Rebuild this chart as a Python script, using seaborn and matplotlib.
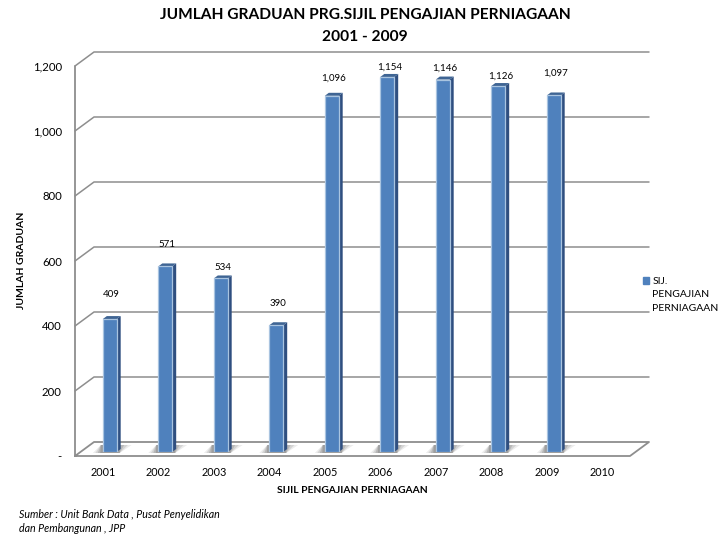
import matplotlib
matplotlib.use('Agg')
import matplotlib.pyplot as plt
from matplotlib.patches import Patch, Polygon
import numpy as np
import pandas as pd
import seaborn as sns

# chart values
years = ['2001', '2002', '2003', '2004', '2005', '2006', '2007', '2008', '2009', '2010']
graduates = [409, 571, 534, 390, 1096, 1154, 1146, 1126, 1097, np.nan]
value_labels = ['409', '571', '534', '390', '1,096', '1,154', '1,146', '1,126', '1,097', '']
y_ticks = [0, 200, 400, 600, 800, 1000, 1200]
y_tick_labels = ['-', '200', '400', '600', '800', '1,000', '1,200']
series_lines = ['SIJ.', 'PENGAJIAN', 'PERNIAGAAN']

# gap above each bar for its label, the original labels were placed by hand
label_gap = [18, 15, 5, 15, 11, 3, 5, 3, 16, 0]

W, H = 720, 540
BLUE = '#4f81bd'
GRID = '#8e8e8e'

sns.set_theme(style='white')
plt.rcParams['font.family'] = ['Lato', 'DejaVu Sans']

fig = plt.figure(figsize=(W / 100, H / 100), dpi=100)


def px_axes(left, right, top, bottom):
    return fig.add_axes([left / W, 1 - bottom / H, (right - left) / W, (bottom - top) / H])


# front plane of the fake 3d box
ax = px_axes(75, 630, 66, 456)
ax.set_xlim(-0.5, 9.5)
ax.set_ylim(0, 1200)
PX = 10 / 555
PY = 1200 / 390
dx, dy = 19 * PX, 14 * PY

for v in y_ticks[1:]:
    ax.plot([-0.5, -0.5 + dx, 9.5 + dx], [v, v + dy, v + dy], color=GRID, lw=1.1, clip_on=False, zorder=1)
ax.plot([-0.5, -0.5 + dx, 9.5 + dx, 9.5, -0.5, -0.5], [0, dy, dy, 0, 0, 1200],
        color=GRID, lw=1.3, clip_on=False, zorder=1)

sns.despine(ax=ax, left=True, bottom=True, top=True, right=True)
ax.set_xticks(range(len(years)), years)
ax.set_yticks(y_ticks, y_tick_labels)
ax.tick_params(axis='x', length=0, pad=8, labelsize=7.8, labelcolor='black')
ax.tick_params(axis='y', length=0, pad=9.5, labelsize=8.2, labelcolor='black')
ax.set_xlabel('SIJIL PENGAJIAN PERNIAGAAN', fontsize=7.4, fontweight='bold', color='black')
ax.xaxis.set_label_coords(277 / 555, -30 / 390)
ax.set_ylabel('JUMLAH GRADUAN', fontsize=7.5, fontweight='bold', color='black')
ax.yaxis.set_label_coords(-49 / 555, 196 / 390)

# bars sit a little inside the box
bx = px_axes(82, 637, 62, 452)
bx.patch.set_alpha(0)
df = pd.DataFrame({'year': years, 'graduates': graduates})
sns.barplot(data=df, x='year', y='graduates', ax=bx, color=BLUE, saturation=1, width=0.25,
            edgecolor='#a9c4e0', linewidth=0.9, legend=False)
bx.set_xlim(-0.5, 9.5)
bx.set_ylim(0, 1200)
bx.axis('off')

for i, bar in enumerate(bx.patches[:len(years)]):
    h = bar.get_height()
    if not np.isfinite(h):
        continue
    x0 = bar.get_x()
    x1 = x0 + bar.get_width()
    sx, sy = 4 * PX, 3 * PY
    # floor shadow
    for grow, alpha in zip([1.0, 0.75, 0.5, 0.25], [0.12, 0.18, 0.25, 0.3]):
        bx.add_patch(Polygon([[x0 - 10 * PX * grow, -PY], [x1 + 3 * PX, -PY],
                              [x1 + 15 * PX * grow, 7 * PY], [x0 - 2 * PX, 7 * PY]],
                             color='#666666', alpha=alpha, lw=0, clip_on=False, zorder=1))
    bx.add_patch(Polygon([[x1, 0], [x1 + sx, sy], [x1 + sx, h + sy], [x1, h]],
                         color='#2f4f80', lw=0, clip_on=False, zorder=3))
    bx.add_patch(Polygon([[x0, h], [x0 + sx, h + sy], [x1 + sx, h + sy], [x1, h]],
                         color='#3f6594', lw=0, clip_on=False, zorder=3))
    bar.set_zorder(4)
    bx.annotate(value_labels[i], (x0 + bar.get_width() / 2 + 2 * PX, h), xytext=(0, 1.4 + label_gap[i] * 0.72),
                textcoords='offset points', ha='center', va='bottom', fontsize=7, color='black',
                annotation_clip=False, zorder=5)

handles = [Patch(color=BLUE), Patch(alpha=0), Patch(alpha=0)]
fig.legend(handles, series_lines, loc='upper left', bbox_to_anchor=(643 / W, 1 - 277 / H), frameon=False,
           fontsize=7.5, handlelength=0.6, handleheight=0.6, handletextpad=0.3, borderpad=0, borderaxespad=0,
           labelcolor='black', labelspacing=0.42)

fig.text(365 / W, 1 - 15 / H, 'JUMLAH GRADUAN PRG.SIJIL PENGAJIAN PERNIAGAAN', ha='center', va='center',
         fontsize=11.2, fontweight='bold', color='black')
fig.text(365 / W, 1 - 37 / H, '2001 - 2009', ha='center', va='center', fontsize=11.2, fontweight='bold', color='black')
fig.text(19 / W, 1 - 514 / H, 'Sumber : Unit Bank Data , Pusat Penyelidikan', ha='left', va='center',
         fontsize=7.65, style='italic', color='black')
fig.text(19 / W, 1 - 528 / H, 'dan Pembangunan , JPP', ha='left', va='center', fontsize=7.65, style='italic', color='black')

fig.savefig('out.png', dpi=100, facecolor='white')
